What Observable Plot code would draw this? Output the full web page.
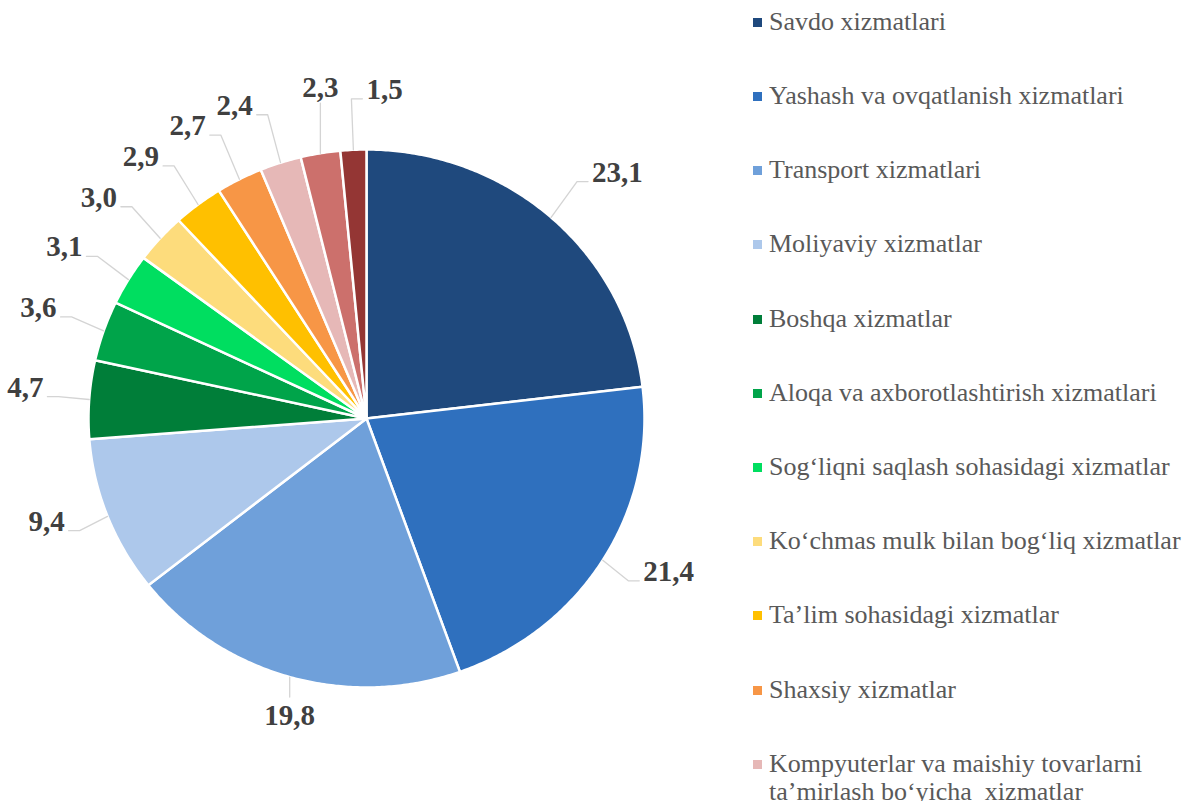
<!DOCTYPE html>
<html><head><meta charset="utf-8">
<script src="https://cdn.jsdelivr.net/npm/d3@7"></script>
<script src="https://cdn.jsdelivr.net/npm/@observablehq/plot@0.6"></script>
<style>
html,body{margin:0;padding:0;background:#fff;overflow:hidden;width:1185px;height:801px;}
#wrap{position:relative;width:1185px;height:801px;overflow:hidden;}
#chart{position:absolute;left:0;top:0;}
#legend{position:absolute;left:753px;top:0;width:432px;font-family:"Liberation Serif","Times New Roman",serif;font-size:26px;color:#595959;}
.item{position:absolute;left:0;display:flex;align-items:flex-start;line-height:28px;}
.sw{width:9px;height:9px;margin-top:10px;flex:none;}
.lab{margin-left:7px;width:416px;white-space:pre-wrap;}
</style></head><body><div id="wrap"><div id="chart"></div><div id="legend"></div></div>
<script>
// ---- data ----
const categories = [
  "Savdo xizmatlari",
  "Yashash va ovqatlanish xizmatlari",
  "Transport xizmatlari",
  "Moliyaviy xizmatlar",
  "Boshqa xizmatlar",
  "Aloqa va axborotlashtirish xizmatlari",
  "Sog‘liqni saqlash sohasidagi xizmatlar",
  "Ko‘chmas mulk bilan bog‘liq xizmatlar",
  "Ta’lim sohasidagi xizmatlar",
  "Shaxsiy xizmatlar",
  "Kompyuterlar va maishiy tovarlarni ta’mirlash bo‘yicha  xizmatlar",
  "Arxitektura, muhandislik izlanishlari sohasidagi xizmatlar",
  "Ijara xizmatlari"
];
const values = [23.1, 21.4, 19.8, 9.4, 4.7, 3.6, 3.1, 3.0, 2.9, 2.7, 2.4, 2.3, 1.5];
const colors = ["#1F497D", "#2F70BE", "#6FA0DA", "#ADC8EB", "#007E39", "#00A44A", "#00DE60",
                "#FDDC7C", "#FFC000", "#F79646", "#E6B8B7", "#CC706C", "#943634"];

// ---- layout (pixels) ----
const cx = 366, cy = 418, rx = 278, ry = 269;
const toX = px => (px - cx) / rx, toY = py => (cy - py) / ry;

const arcs = d3.pie().sort(null).value(d => d)(values);

// slice polygons
const slicePts = [];
arcs.forEach((a, i) => {
  slicePts.push({cat: categories[i], x: 0, y: 0});
  const n = Math.max(2, Math.ceil((a.endAngle - a.startAngle) / (Math.PI / 360)));
  for (let k = 0; k <= n; k++) {
    const t = a.startAngle + (a.endAngle - a.startAngle) * k / n;
    slicePts.push({cat: categories[i], x: Math.sin(t), y: Math.cos(t)});
  }
});

// labels + leaders
const fs = 29, lh = 20;
const placed = [];
const labelRows = [], leaderRows = [];
function textW(s) { let w = 0; for (const ch of s) w += (ch === "," ? 0.25 : 0.5) * fs; return w; }
function overlap(b) {
  const m = 6;
  return placed.find(p => !(b.x1 + m < p.x0 || b.x0 - m > p.x1 || b.y1 + m < p.y0 || b.y0 - m > p.y1));
}
arcs.forEach((a, i) => {
  const mid = (a.startAngle + a.endAngle) / 2;
  const s = Math.sin(mid), c = Math.cos(mid);
  const Re = 308 + 12 * Math.max(0, c);
  const A = [cx + rx * s, cy - ry * c];
  const text = values[i].toFixed(1).replace(".", ",");
  const w = textW(text);
  function side(dir) {
    const E = [cx + Re * s, cy - Re * c];
    const H = [E[0] + dir * 11, E[1]];
    const tx = H[0] + dir * 4;
    return {pts: [A, E, H], lab: {x: tx, y: E[1], anchor: dir > 0 ? "start" : "end", line: "bottom"},
            box: {x0: Math.min(tx, tx + dir * w), x1: Math.max(tx, tx + dir * w), y0: E[1] - lh, y1: E[1]}};
  }
  function center() {
    if (c > 0) {
      const E = [A[0], cy - Re * c];
      const ty = E[1] - 6;
      return {pts: [A, E], lab: {x: A[0], y: ty, anchor: "middle", line: "bottom"},
              box: {x0: A[0] - w / 2, x1: A[0] + w / 2, y0: ty - lh, y1: ty}};
    } else {
      const E = [A[0], A[1] + 20];
      const ty = E[1] + 7;
      return {pts: [A, E], lab: {x: A[0], y: ty, anchor: "middle", line: "top"},
              box: {x0: A[0] - w / 2, x1: A[0] + w / 2, y0: ty, y1: ty + lh}};
    }
  }
  let r;
  if (Math.abs(s) < 0.3) {
    r = center();
    const hit = overlap(r.box);
    if (hit) r = side((hit.x0 + hit.x1) / 2 < A[0] ? 1 : -1);
  } else {
    r = side(s >= 0 ? 1 : -1);
  }
  placed.push(r.box);
  r.pts.forEach(p => leaderRows.push({k: i, x: toX(p[0]), y: toY(p[1])}));
  labelRows.push({text, x: toX(r.lab.x), y: toY(r.lab.y), anchor: r.lab.anchor, line: r.lab.line});
});

const textOpts = {x: "x", y: "y", text: "text", fontSize: fs, fontWeight: "bold", fill: "#404040"};
const textMarks = [];
for (const anchor of ["start", "end", "middle"]) for (const line of ["top", "bottom"]) {
  const rows = labelRows.filter(d => d.anchor === anchor && d.line === line);
  if (rows.length) textMarks.push(Plot.text(rows, {...textOpts, textAnchor: anchor, lineAnchor: line}));
}

const chart = Plot.plot({
  width: 740, height: 801, margin: 0,
  x: {domain: [-1, 1], range: [cx - rx, cx + rx], axis: null},
  y: {domain: [-1, 1], range: [cy + ry, cy - ry], axis: null},
  color: {domain: categories, range: colors},
  style: {background: "white", fontFamily: "'Liberation Serif', 'Times New Roman', serif", overflow: "visible"},
  marks: [
    Plot.line(slicePts, {x: "x", y: "y", z: "cat", fill: "cat", stroke: "white", strokeWidth: 2.5, curve: "linear-closed"}),
    Plot.line(leaderRows, {x: "x", y: "y", z: "k", stroke: "#d4d4d4", strokeWidth: 1.3}),
    ...textMarks
  ]
});
document.getElementById("chart").appendChild(chart);

// legend
const legend = document.getElementById("legend");
categories.forEach((name, i) => {
  const item = document.createElement("div");
  item.className = "item";
  item.style.top = (7.7 + 74.2 * i) + "px";
  const sw = document.createElement("div");
  sw.className = "sw";
  sw.style.background = colors[i];
  const lab = document.createElement("div");
  lab.className = "lab";
  lab.textContent = name;
  item.appendChild(sw);
  item.appendChild(lab);
  legend.appendChild(item);
});
</script></body></html>
